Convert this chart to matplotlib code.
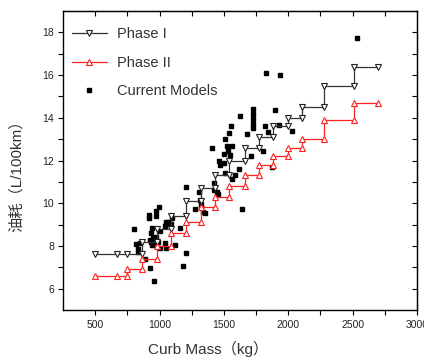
import matplotlib
matplotlib.use("Agg")
import matplotlib.pyplot as plt
from matplotlib.ticker import FixedLocator

plt.rcParams['font.family'] = ['Liberation Sans', 'Noto Sans CJK SC', 'DejaVu Sans']

# stepped fuel consumption limits by curb mass
phase1_mass = [500, 670, 750, 865, 865, 980, 980, 1090, 1090, 1205, 1205, 1320, 1320,
               1430, 1430, 1540, 1540, 1660, 1660, 1770, 1770, 1880, 1880, 2000, 2000,
               2110, 2110, 2280, 2280, 2510, 2510, 2700]
phase1_fuel = [7.6, 7.6, 7.6, 7.6, 8.2, 8.2, 8.8, 8.8, 9.4, 9.4, 10.1, 10.1, 10.7,
               10.7, 11.3, 11.3, 12.0, 12.0, 12.6, 12.6, 13.1, 13.1, 13.6, 13.6, 14.0,
               14.0, 14.5, 14.5, 15.5, 15.5, 16.4, 16.4]

phase2_mass = [500, 670, 750, 750, 865, 865, 980, 980, 1090, 1090, 1205, 1205, 1320,
               1320, 1430, 1430, 1540, 1540, 1660, 1660, 1770, 1770, 1880, 1880, 2000,
               2000, 2110, 2110, 2280, 2280, 2510, 2510, 2700]
phase2_fuel = [6.6, 6.6, 6.6, 6.9, 6.9, 7.4, 7.4, 8.0, 8.0, 8.6, 8.6, 9.1, 9.1,
               9.8, 9.8, 10.3, 10.3, 10.8, 10.8, 11.3, 11.3, 11.8, 11.8, 12.2, 12.2,
               12.6, 12.6, 13.0, 13.0, 13.9, 13.9, 14.7, 14.7]

# current models on the market
model_mass = [2530, 1823, 1935, 1622, 1729, 1729, 1729, 1729, 1729, 1893, 1552, 1819,
              1930, 2031, 1536, 1678, 1845, 1508, 1520, 1563, 1407, 1497, 1535, 1547,
              1713, 1802, 1462, 1499, 1469, 1618, 1875, 1510, 1586, 1565, 1424, 1422,
              1443, 1455, 1312, 1325, 1320, 1338, 1352, 1638, 1273, 1208, 1307, 1156,
              1208, 1185, 995, 974, 920, 920, 974, 1052, 1039, 1091, 1047, 938, 1005,
              935, 800, 922, 935, 955, 943, 987, 960, 950, 1044, 1052, 1122, 1000,
              849, 818, 830, 836, 888, 925, 955, 930, 965, 1065, 1100, 940, 975]
model_fuel = [17.74, 16.09, 16.0, 14.09, 14.40, 14.17, 13.93, 13.70, 13.51, 14.37, 13.62,
              13.60, 13.64, 13.38, 13.3, 13.23, 13.32, 13.02, 12.7, 12.7, 12.57, 12.32,
              12.45, 12.26, 12.23, 12.46, 11.97, 11.9, 11.8, 11.6, 11.68, 11.4, 11.32,
              11.13, 10.96, 10.62, 10.54, 10.42, 10.17, 9.96, 9.8, 9.6, 9.56, 9.75, 9.72,
              10.78, 10.54, 8.86, 7.68, 7.06, 9.81, 9.64, 9.47, 9.3, 9.42, 9.12, 8.93,
              9.01, 9.01, 8.84, 8.68, 8.59, 8.81, 8.28, 8.2, 8.28, 8.12, 8.17, 8.15,
              8.35, 8.15, 7.92, 8.04, 7.89, 8.12, 8.1, 7.85, 7.73, 7.37, 6.98, 6.36,
              8.22, 8.3, 9.14, 9.3, 8.05, 8.4]

x_major = [500, 1000, 1500, 2000, 2500, 3000]
x_minor = [750, 1250, 1750, 2250, 2750]
y_major = [6, 8, 10, 12, 14, 16, 18]
y_minor = [7, 9, 11, 13, 15, 17]

fig = plt.figure(figsize=(4.24, 3.62), dpi=100)
ax = fig.add_axes([0.1486, 0.1436, 0.835, 0.826])

ax.plot(phase1_mass, phase1_fuel, color='#333333', lw=0.9, marker='v', ms=4,
        mfc='white', mec='#222222', mew=0.8, label='Phase I', zorder=3)
ax.plot(phase2_mass, phase2_fuel, color='#ff2020', lw=0.9, marker='^', ms=4,
        mfc='white', mec='#ff2020', mew=0.8, label='Phase II', zorder=3)
ax.plot(model_mass, model_fuel, ls='none', marker='s', ms=2.8, color='black',
        label='Current Models', zorder=2)

ax.set_xlim(250, 3000)
ax.set_ylim(5, 19)
ax.xaxis.set_major_locator(FixedLocator(x_major))
ax.xaxis.set_minor_locator(FixedLocator(x_minor))
ax.yaxis.set_major_locator(FixedLocator(y_major))
ax.yaxis.set_minor_locator(FixedLocator(y_minor))

ax.tick_params(axis='both', which='both', direction='out', length=3.5, width=0.8,
               labelsize=7.5, top=False, right=False, labelcolor='#222222')
ax.tick_params(axis='x', pad=4)
ax.tick_params(axis='y', pad=3)

# inward mirrored ticks on the top and right edges
ax_top = ax.secondary_xaxis('top')
ax_top.xaxis.set_major_locator(FixedLocator(x_major[:-1] + x_minor))
ax_top.tick_params(direction='in', length=3.5, width=0.8, labeltop=False)
ax_right = ax.secondary_yaxis('right')
ax_right.yaxis.set_major_locator(FixedLocator(y_major + y_minor))
ax_right.tick_params(direction='in', length=3.5, width=0.8, labelright=False)

for sp in ax.spines.values():
    sp.set_linewidth(1.0)

ax.set_xlabel('Curb Mass（kg）', fontsize=11, color='#333333')
ax.xaxis.set_label_coords(0.41, -0.105)
ax.set_ylabel('油耗（L/100km）', fontsize=11, color='#333333')
ax.yaxis.set_label_coords(-0.11, 0.46)

leg = ax.legend(loc='upper left', bbox_to_anchor=(0.0, 0.975), frameon=False,
                fontsize=10.5, handlelength=2.4, labelspacing=1.0, handletextpad=0.7,
                borderaxespad=0.2)
for t in leg.get_texts():
    t.set_color('#333333')

fig.savefig('out.png', dpi=100)
